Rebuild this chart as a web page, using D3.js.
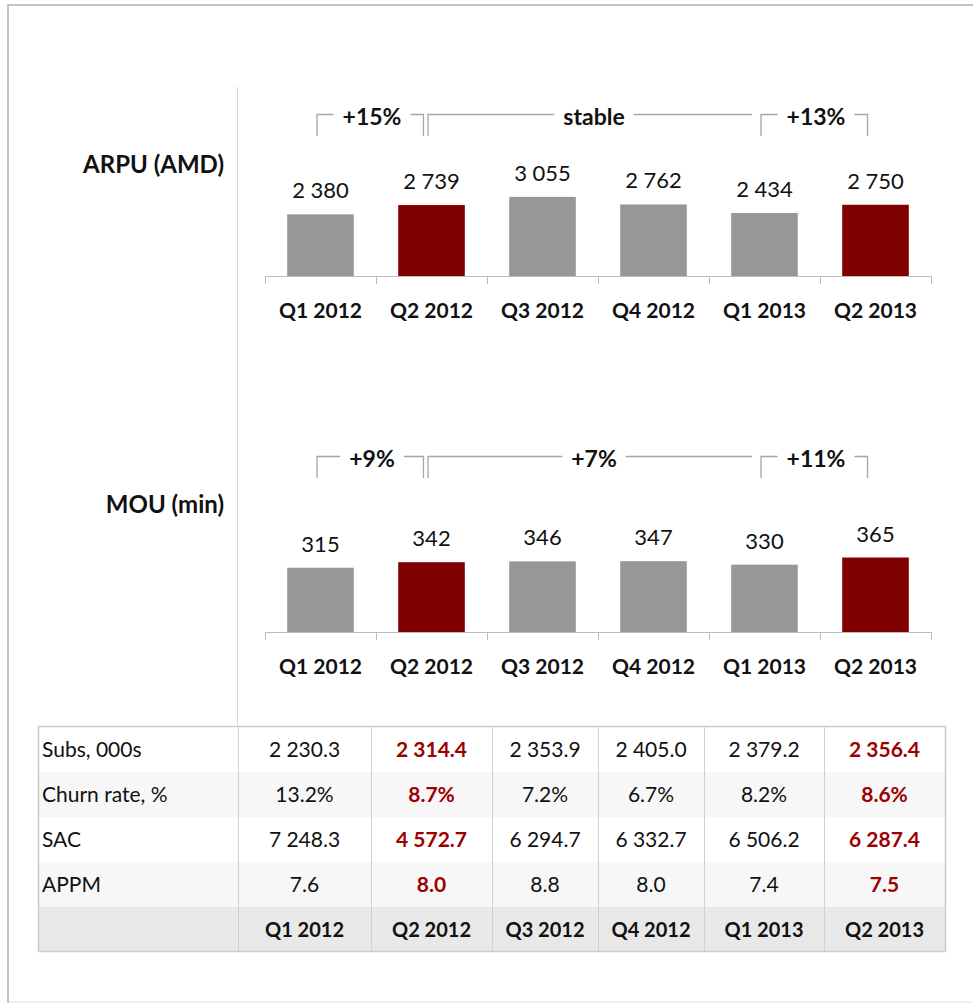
<!DOCTYPE html>
<html>
<head>
<meta charset="utf-8">
<script src="https://cdn.jsdelivr.net/npm/d3@7"></script>
<style>
  body { margin: 0; background: #fff; }
  svg text { font-family: Lato, "Open Sans", sans-serif; }
</style>
</head>
<body>
<div id="chart"></div>
<script>

// Quarters shown on both charts and the table
var quarters = ["Q1 2012", "Q2 2012", "Q3 2012", "Q4 2012", "Q1 2013", "Q2 2013"];
var highlighted = ["Q2 2012", "Q2 2013"];

// Bar values
var arpuValues = [2380, 2739, 3055, 2762, 2434, 2750];
var mouValues = [315, 342, 346, 347, 330, 365];

// Brackets above the bars (index of first and last quarter)
var arpuBrackets = [
    { from: 0, to: 1, label: "+15%", closed: true },
    { from: 1, to: 4, label: "stable", closed: false },
    { from: 4, to: 5, label: "+13%", closed: true }
];
var mouBrackets = [
    { from: 0, to: 1, label: "+9%", closed: true },
    { from: 1, to: 4, label: "+7%", closed: false },
    { from: 4, to: 5, label: "+11%", closed: true }
];

// Table rows
var rowNames = ["Subs, 000s", "Churn rate, %", "SAC", "APPM"];
var subsValues = ["2 230.3", "2 314.4", "2 353.9", "2 405.0", "2 379.2", "2 356.4"];
var churnValues = ["13.2%", "8.7%", "7.2%", "6.7%", "8.2%", "8.6%"];
var sacValues = ["7 248.3", "4 572.7", "6 294.7", "6 332.7", "6 506.2", "6 287.4"];
var appmValues = ["7.6", "8.0", "8.8", "8.0", "7.4", "7.5"];


var W = 973, H = 1003;
var grey = "#979797", red = "#800000", textRed = "#9c0000";

var svg = d3.select("#chart").append("svg")
    .attr("width", W)
    .attr("height", H);

// outer frame (left and top edges visible, bottom is a faint line)
svg.append("rect")
    .attr("x", 8).attr("y", 5)
    .attr("width", W + 20).attr("height", H + 20)
    .attr("fill", "none")
    .attr("stroke", "#c4c4c4")
    .attr("stroke-width", 2);
svg.append("line")
    .attr("x1", 9).attr("x2", W).attr("y1", 1002).attr("y2", 1002)
    .attr("stroke", "#efefef").attr("stroke-width", 2);

// divider between titles and charts
svg.append("line")
    .attr("x1", 237.5).attr("x2", 237.5)
    .attr("y1", 87).attr("y2", 727)
    .attr("stroke", "#d4d4d4");

var x = d3.scaleBand()
    .domain(quarters)
    .range([265, 931])
    .paddingInner(0.4)
    .paddingOuter(0.2);


/*
 *  One bar panel: title, bars, value labels, axis and brackets
 */

BarPanel = function(_title, _values, _brackets, _opts) {
    this.title = _title;
    this.values = _values;
    this.brackets = _brackets;
    this.opts = _opts;

    this.draw();
};

BarPanel.prototype.draw = function() {
    var vis = this;
    var o = vis.opts;

    vis.g = svg.append("g");

    vis.y = d3.scaleLinear()
        .domain([0, o.maxValue])
        .range([o.baseline, o.baseline - o.maxValue / o.unitsPerPx]);

    // title
    vis.g.append("text")
        .attr("x", 224)
        .attr("y", o.titleY)
        .attr("text-anchor", "end")
        .attr("font-size", 24)
        .attr("font-weight", "bold")
        .attr("fill", "#111")
        .text(vis.title);

    // bars
    vis.g.selectAll(".bar")
        .data(vis.values)
        .enter().append("rect")
        .attr("class", "bar")
        .attr("x", function(d, i) { return x(quarters[i]); })
        .attr("width", x.bandwidth())
        .attr("y", function(d) { return vis.y(d); })
        .attr("height", function(d) { return vis.y(0) - vis.y(d); })
        .attr("fill", function(d, i) { return highlighted.indexOf(quarters[i]) >= 0 ? red : grey; });

    // value labels
    vis.g.selectAll(".val")
        .data(vis.values)
        .enter().append("text")
        .attr("class", "val")
        .attr("x", function(d, i) { return x(quarters[i]) + x.bandwidth() / 2; })
        .attr("y", function(d) { return vis.y(d) - 16; })
        .attr("text-anchor", "middle")
        .attr("font-size", 22)
        .attr("fill", "#111")
        .text(function(d) { return d3.format(",")(d).replace(/,/g, " "); });

    // axis with labels
    var axis = vis.g.append("g")
        .attr("transform", "translate(0," + o.baseline + ")")
        .call(d3.axisBottom(x).tickSize(0).tickPadding(27));
    axis.select(".domain").attr("stroke", "#bdbdbd").attr("d", "M265,0.5H931");
    axis.selectAll("text")
        .attr("font-size", 21)
        .attr("font-weight", "bold")
        .attr("fill", "#111")
        .attr("font-family", "Lato, sans-serif");

    // tick marks at category boundaries
    var edges = quarters.map(function(q) { return x(q) - x.step() * x.paddingInner() / 2; });
    edges.push(x(quarters[quarters.length - 1]) + x.bandwidth() + x.step() * x.paddingInner() / 2);
    vis.g.selectAll(".edge")
        .data(edges)
        .enter().append("line")
        .attr("x1", function(d) { return Math.round(d) + 0.5; })
        .attr("x2", function(d) { return Math.round(d) + 0.5; })
        .attr("y1", o.baseline)
        .attr("y2", o.baseline + 8)
        .attr("stroke", "#bdbdbd");

    // brackets
    vis.brackets.forEach(function(b) {
        var cx = function(i) { return x(quarters[i]) + x.bandwidth() / 2; };
        var left = cx(b.from) - 3.5;
        var right = b.closed ? cx(b.to) - 8 : cx(b.to) - 12.5;
        var mid = (cx(b.from) + cx(b.to)) / 2 - 4;
        var ly = o.bracketY + 0.5;

        var label = vis.g.append("text")
            .attr("x", mid)
            .attr("y", o.bracketTextY)
            .attr("text-anchor", "middle")
            .attr("font-size", 23)
            .attr("font-weight", "bold")
            .attr("fill", "#111")
            .text(b.label);
        var tw = label.node().getComputedTextLength();
        var gap = 9;

        var path = "M" + left + "," + o.bracketBottom + "V" + ly + "H" + (mid - tw / 2 - gap)
            + "M" + (mid + tw / 2 + gap) + "," + ly + "H" + right;
        if (b.closed) path += "V" + o.bracketBottom;

        vis.g.append("path")
            .attr("d", path)
            .attr("fill", "none")
            .attr("stroke", "#a6a6a6")
            .attr("stroke-width", 1.3);
    });
};

var arpuPanel = new BarPanel("ARPU (AMD)", arpuValues, arpuBrackets, {
    baseline: 276, maxValue: 4000, unitsPerPx: 38.6, titleY: 173,
    bracketY: 114, bracketBottom: 136, bracketTextY: 125
});

var mouPanel = new BarPanel("MOU (min)", mouValues, mouBrackets, {
    baseline: 632, maxValue: 400, unitsPerPx: 4.9, titleY: 513,
    bracketY: 456, bracketBottom: 478, bracketTextY: 467
});


/*
 *  Table under the charts
 */

var colEdges = [38, 238, 371, 492, 598, 704, 824, 945];
var rowTop = 727, rowH = 45;
var rows = [subsValues, churnValues, sacValues, appmValues];
var rowFill = ["#ffffff", "#f7f7f7", "#ffffff", "#f7f7f7", "#e8e8e8"];

var table = svg.append("g");

table.selectAll(".rowbg")
    .data(rowFill)
    .enter().append("rect")
    .attr("x", colEdges[0])
    .attr("y", function(d, i) { return rowTop + i * rowH; })
    .attr("width", colEdges[colEdges.length - 1] - colEdges[0])
    .attr("height", rowH)
    .attr("fill", function(d) { return d; });

// vertical lines
table.selectAll(".vline")
    .data(colEdges.slice(1, -1))
    .enter().append("line")
    .attr("x1", function(d) { return d + 0.5; })
    .attr("x2", function(d) { return d + 0.5; })
    .attr("y1", rowTop)
    .attr("y2", rowTop + rowH * 5)
    .attr("stroke", "#d0d0d0");

// outline
table.append("rect")
    .attr("x", colEdges[0] + 0.5)
    .attr("y", rowTop - 0.5)
    .attr("width", colEdges[colEdges.length - 1] - colEdges[0])
    .attr("height", rowH * 5)
    .attr("fill", "none")
    .attr("stroke", "#cbcbcb")
    .attr("stroke-width", 1.5);

var colCenter = function(j) { return (colEdges[j + 1] + colEdges[j + 2]) / 2; };

rows.forEach(function(vals, r) {
    var ty = rowTop + r * rowH + rowH / 2 + 7;
    table.append("text")
        .attr("x", 42)
        .attr("y", ty)
        .attr("font-size", 21)
        .attr("fill", "#111")
        .text(rowNames[r]);

    table.selectAll(".cell" + r)
        .data(vals)
        .enter().append("text")
        .attr("x", function(d, j) { return colCenter(j); })
        .attr("y", ty)
        .attr("text-anchor", "middle")
        .attr("font-size", 21)
        .attr("font-weight", function(d, j) { return highlighted.indexOf(quarters[j]) >= 0 ? "bold" : "normal"; })
        .attr("fill", function(d, j) { return highlighted.indexOf(quarters[j]) >= 0 ? textRed : "#111"; })
        .text(function(d) { return d; });
});

table.selectAll(".head")
    .data(quarters)
    .enter().append("text")
    .attr("x", function(d, j) { return colCenter(j); })
    .attr("y", rowTop + 4 * rowH + rowH / 2 + 7)
    .attr("text-anchor", "middle")
    .attr("font-size", 20)
    .attr("font-weight", "bold")
    .attr("fill", "#111")
    .text(function(d) { return d; });

</script>
</body>
</html>
